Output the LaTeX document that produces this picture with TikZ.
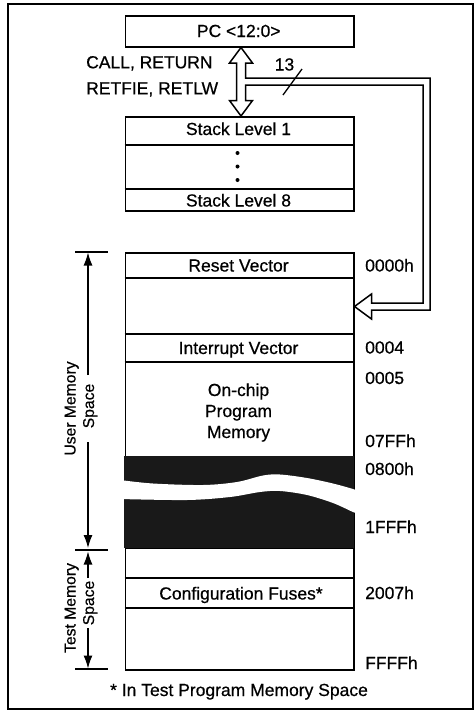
\documentclass[tikz,border=0pt]{standalone}
\usepackage{fontspec}
\setmainfont{Liberation Sans}[FakeBold=0.6]
\usetikzlibrary{arrows.meta,calc}
\begin{document}
\begin{tikzpicture}[x=1pt,y=-1pt,
  box/.style={draw, line width=1.5pt, fill=white, inner sep=0pt, anchor=north west, minimum width=228.5pt},
  divline/.style={line width=1.3pt},
  lbl/.style={font=\fontsize{17.5}{20}\selectfont, inner sep=0pt, anchor=base},
  rlbl/.style={font=\fontsize{17.5}{20}\selectfont, inner sep=0pt, anchor=base west},
  vlbl/.style={font=\fontsize{15.7}{18}\selectfont, inner sep=0pt, rotate=90, anchor=base},
  dimline/.style={line width=1.2pt},
  dimarrow/.style={line width=1.2pt, -{Latex[length=13pt,width=9pt]}},
  pipe/.style={draw, line width=1.5pt, fill=white, line join=miter},
  darkfill/.style={fill=black!90},
]
\useasboundingbox (0,0) rectangle (474,710);
\draw[line width=1.5pt] (8,4) rectangle (473,709);

% PC and stack
\node[box, minimum height=31pt] (pc) at (124.5,15) {};
\node[lbl] (pctxt) at (238.75,37) {PC <12:0>};
\node[box, minimum height=94pt] (stack) at (124.5,116) {};
\draw[divline] (124.5,145) -- (353,145);
\draw[divline] (124.5,189) -- (353,189);
\node[lbl] (s1) at (238.5,135) {Stack Level 1};
\node[lbl] (s8) at (238.5,206.5) {Stack Level 8};
\fill (237.5,153) circle[radius=2pt];
\fill (237.5,166.5) circle[radius=2pt];
\fill (237.5,180) circle[radius=2pt];

% memory map
\node[box, minimum height=417pt] (mem) at (124.5,252) {};
\draw[divline] (124.5,278) -- (353,278);
\draw[divline] (124.5,334) -- (353,334);
\draw[divline] (124.5,362) -- (353,362);
\draw[divline] (124.5,548) -- (353,548);
\draw[divline] (124.5,578) -- (353,578);
\draw[divline] (124.5,608) -- (353,608);
\fill[darkfill] (123.75,456) rectangle (353.75,548);
\fill[white] plot[smooth, tension=0.55] coordinates {(120,480) (153,483.5) (203,485) (237,482) (263,475.5) (280,474.5) (307,478) (333,483.5) (353,489) (358,491)}
  -- plot[smooth, tension=0.55] coordinates {(358,513.5) (353,512) (333,503) (307,495) (280,491) (260,492) (230,497) (187,500) (120,499)} -- cycle;

\node[lbl] (rv) at (238.5,271.5) {Reset Vector};
\node[lbl] (iv) at (238.5,354) {Interrupt Vector};
\node[lbl] (oc1) at (238.5,396) {On-chip};
\node[lbl] (oc2) at (238.5,417) {Program};
\node[lbl] (oc3) at (238.5,438) {Memory};
\node[lbl] (cf) at (241,599.5) {Configuration Fuses*};

\node[rlbl] (a0) at (365,271.5) {0000h};
\node[rlbl] (a4) at (365,353.5) {0004};
\node[rlbl] (a5) at (365,384) {0005};
\node[rlbl] (a7) at (365,447) {07FFh};
\node[rlbl] (a8) at (365,475) {0800h};
\node[rlbl] (a1f) at (365,533) {1FFFh};
\node[rlbl] (a27) at (365,599) {2007h};
\node[rlbl] (aff) at (365,669) {FFFFh};

\node[lbl] (note) at (239,696) {* In Test Program Memory Space};

% double arrow and bus pipe
\coordinate (ax) at (241,0);
\coordinate (ay) at (0,306.5);
\coordinate (T1) at (pc.south -| ax);
\coordinate (T2) at (stack.north -| ax);
\coordinate (T3) at (mem.east |- ay);
\draw[pipe] (T1) -- ++(11.5,15.5) -- ++(-7,0) |- (430,78) |- ($(T3)+(17,3.5)$) -- ++(0,9) -- (T3)
  -- ++(17,-12.5) -- ++(0,9) -| (423,85) -| ($(T2)+(4.5,-15.5)$) -- ++(7,0) -- (T2)
  -- ++(-11.5,-15.5) -- ++(7,0) -- ($(T1)+(-4.5,15.5)$) -- ++(-7,0) -- cycle;
\draw[line width=1.3pt] (283,95) -- (302,69);
\node[lbl] (w13) at (284.5,70.5) {13};
\node[rlbl] (c1) at (86,68.3) {CALL, RETURN};
\node[rlbl] (c2) at (86,94.3) {RETFIE, RETLW};

% dimension marks
\draw[dimline] (75,252) -- (108,252);
\draw[dimline] (75,550) -- (108,550);
\draw[dimline] (75,669) -- (108,669);
\draw[dimarrow] (88,375) -- (88,252.5);
\draw[dimarrow] (88,442) -- (88,548);
\draw[dimarrow] (88,578) -- (88,551.5);
\draw[dimarrow] (88,628) -- (88,668.5);
\node[vlbl] (um) at (75.5,408.5) {User Memory};
\node[vlbl] (us) at (94,406) {Space};
\node[vlbl] (tm) at (75.5,608) {Test Memory};
\node[vlbl] (ts) at (94,603) {Space};
\end{tikzpicture}
\end{document}
